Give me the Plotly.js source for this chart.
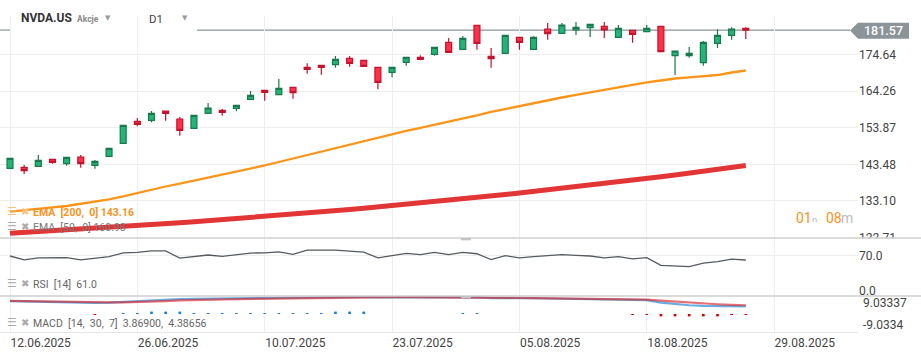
<!DOCTYPE html>
<html><head><meta charset="utf-8">
<script src="https://cdn.plot.ly/plotly-3.0.1.min.js"></script>
<style>html,body{margin:0;padding:0;background:#fff;}#chart{width:921px;height:355px;}</style>
</head><body><div id="chart"></div>
<script>
// ---- data ----
const dates = ['12.06','13.06','16.06','17.06','18.06','20.06','23.06','24.06','25.06','26.06',
 '27.06','30.06','01.07','02.07','03.07','07.07','08.07','09.07','10.07','11.07',
 '14.07','15.07','16.07','17.07','18.07','21.07','22.07','23.07','24.07','25.07',
 '28.07','29.07','30.07','31.07','01.08','04.08','05.08','06.08','07.08','08.08',
 '11.08','12.08','13.08','14.08','15.08','18.08','19.08','20.08','21.08','22.08',
 '25.08','26.08','27.08'];
const open = [142.36,142.64,142.92,144.91,143.66,145.56,143.21,145.76,149.45,155.69,
 155.97,158.61,156.34,153.70,157.96,158.81,159.38,161.93,164.48,163.24,
 165.33,171.01,171.58,171.75,173.56,172.99,171.01,169.59,172.43,173.85,
 174.70,178.10,176.12,182.92,174.13,174.98,179.52,176.12,181.87,180.65,
 181.59,182.24,182.64,179.52,181.51,181.11,182.64,174.30,174.30,172.31,
 177.82,180.09,182.07];
const high = [145.30,143.29,146.13,145.00,145.60,146.13,144.71,148.10,154.60,156.63,
 158.61,158.70,156.91,157.45,160.88,159.18,160.30,164.29,164.60,167.69,
 165.40,172.14,171.65,174.21,174.21,173.05,171.05,171.05,173.90,174.41,
 176.75,179.32,179.89,182.95,176.48,180.15,179.60,179.80,183.58,183.58,
 183.86,183.30,183.86,183.01,181.55,183.01,182.70,175.70,176.77,178.47,
 181.79,182.36,182.36];
const low = [142.30,140.74,142.90,143.66,143.09,142.53,142.24,145.70,149.40,154.27,
 155.41,155.86,151.60,153.65,157.90,157.28,158.53,161.90,161.53,163.20,
 162.10,169.19,168.91,170.90,171.18,171.25,164.77,168.17,171.46,172.99,
 174.30,175.20,176.10,176.00,170.90,174.95,176.00,176.10,178.84,180.46,
 180.17,179.60,179.32,179.50,177.99,181.05,175.40,168.82,173.73,171.46,
 176.48,178.84,179.04];
const close = [145.19,141.68,144.63,144.06,145.48,143.66,144.34,148.03,154.55,154.84,
 157.96,157.96,153.14,157.39,159.46,158.24,160.23,163.06,163.92,165.05,
 163.80,170.44,171.01,173.28,172.14,171.29,166.75,171.01,173.85,173.28,
 176.68,175.26,179.24,177.82,173.45,180.09,178.10,179.52,180.54,183.01,
 182.36,183.21,181.59,182.07,180.37,182.07,175.43,175.63,174.98,178.10,
 180.09,181.87,181.57];
const ema50 = [130.04,130.38,130.81,131.24,131.66,132.23,132.94,133.51,134.36,135.35,
 136.20,137.19,138.04,138.90,139.75,140.60,141.31,142.30,143.15,144.14,
 145.14,146.13,147.12,148.11,149.11,150.10,151.09,152.09,152.94,153.79,
 154.64,155.49,156.48,157.34,158.33,159.18,160.03,160.88,161.73,162.44,
 163.15,163.86,164.57,165.42,166.13,166.70,167.26,167.83,168.12,168.40,
 168.82,169.53,170.10];
const ema200 = [123.92,124.14,124.37,124.60,124.83,125.07,125.31,125.56,125.81,126.07,
 126.33,126.60,126.88,127.16,127.45,127.74,128.04,128.35,128.66,128.98,
 129.30,129.63,129.97,130.31,130.66,131.02,131.38,131.75,132.12,132.50,
 132.89,133.28,133.68,134.09,134.50,134.92,135.34,135.77,136.21,136.65,
 137.10,137.56,138.02,138.49,138.97,139.45,139.94,140.43,140.96,141.50,
 142.05,142.60,143.16];
const rsi = [69.0,61.2,65.1,65.1,65.7,61.2,63.8,67.7,75.4,76.2,
 79.3,79.3,64.6,68.4,71.0,68.4,71.0,74.9,75.4,77.4,
 72.3,80.7,80.7,80.7,78.8,76.8,65.1,70.4,74.3,71.6,
 76.2,71.6,76.2,73.5,61.8,69.6,65.1,67.7,69.6,71.6,
 70.4,69.0,65.1,67.7,63.2,65.7,50.2,49.6,47.6,54.8,
 57.9,62.6,61.0];
const macd = [6.5,6.3,6.1,6.0,5.9,5.8,5.6,5.7,6.1,6.5,
 6.9,7.3,7.5,7.6,7.7,7.75,7.8,7.9,8.0,8.1,
 8.2,8.4,8.5,8.6,8.6,8.6,8.3,8.3,8.4,8.4,
 8.5,8.4,8.6,8.5,8.0,8.1,7.9,7.9,7.8,7.8,
 7.7,7.6,7.4,7.4,7.1,7.0,5.7,5.0,4.4,4.1,
 3.9,3.9,3.869];
const signal = [6.6,6.45,6.3,6.15,6.05,5.95,5.9,5.85,5.8,5.95,
 6.2,6.5,6.8,7.05,7.25,7.4,7.5,7.6,7.7,7.8,
 7.9,8.05,8.2,8.35,8.45,8.5,8.5,8.45,8.45,8.45,
 8.45,8.45,8.45,8.45,8.3,8.2,8.1,8.0,7.9,7.85,
 7.8,7.7,7.6,7.5,7.35,7.2,6.7,6.2,5.7,5.2,
 4.9,4.6,4.387];
const hist = [0,0,0,0,0,0,-0.5,0,0.5,0.5,
 1.2,1.2,1.2,0.5,0.5,0.5,0.5,0.5,0.5,0.5,
 0.5,0.5,0.5,1.2,1.2,1.2,0,0,0,0,
 0,0,0.5,0.5,0,0,0,0,0,0,
 0,0,0,0,-0.5,-0.5,-1.2,-1.2,-1.2,-1.2,
 -1.2,-0.5,-0.5];
const xTickIdx = [0,9,18,27,36,45,54];
const xTickText = ['12.06.2025','26.06.2025','10.07.2025','23.07.2025','05.08.2025','18.08.2025','29.08.2025'];
const priceTicks = [122.71,133.10,143.48,153.87,164.26,174.64];
const rsiTicks = [0,70];
const macdTicks = [9.03337,-9.0334];
const lastPrice = 181.57;
const legendEma200 = 'EMA\u00a0 [200,\u00a0 0] 143.16';
const legendEma50 = 'EMA\u00a0 [50,\u00a0 0] 160.98';
const legendRsi = 'RSI\u00a0 [14]\u00a0 61.0';
const legendMacd = 'MACD\u00a0 [14,\u00a0 30,\u00a0 7]\u00a0 3.86900,\u00a0 4.38656';

// ---- geometry helpers (pixel -> paper) ----
const PW = 858, PB = 332, PH = 316;
const px = v => v / PW;
const py = v => (PB - v) / PH;

const x = dates.map((d, i) => i);
const font = 'Roboto, "Noto Sans", sans-serif';

const traces = [
 {type:'scatter', mode:'lines', x:x, y:ema200, yaxis:'y', xaxis:'x',
  line:{color:'#e23535', width:5}, hoverinfo:'skip'},
 {type:'scatter', mode:'lines', x:x, y:ema50, yaxis:'y', xaxis:'x',
  line:{color:'#fb9419', width:2.3}, hoverinfo:'skip'},
 {type:'candlestick', x:x, open:open, high:high, low:low, close:close, yaxis:'y', xaxis:'x',
  increasing:{line:{color:'#177a4c', width:1.2}, fillcolor:'#25b477'},
  decreasing:{line:{color:'#c3132e', width:1.2}, fillcolor:'#ff3148'},
  whiskerwidth:0, hoverinfo:'skip'},
 {type:'scatter', mode:'lines', x:x, y:rsi, yaxis:'y2', xaxis:'x',
  line:{color:'#555b60', width:1.3}, hoverinfo:'skip'},
 {type:'bar', x:x, y:hist, yaxis:'y3', xaxis:'x', width:0.19,
  marker:{color:hist.map(v => v >= 0 ? '#1a7fd4' : '#d80000'), line:{width:0}}, hoverinfo:'skip'},
 {type:'scatter', mode:'lines', x:x, y:macd, yaxis:'y3', xaxis:'x',
  line:{color:'rgba(40,140,215,0.7)', width:2.2}, hoverinfo:'skip'},
 {type:'scatter', mode:'lines', x:x, y:signal, yaxis:'y3', xaxis:'x',
  line:{color:'rgba(215,35,45,0.65)', width:2.2}, hoverinfo:'skip'}
];

const shapes = [
 {type:'line', xref:'paper', yref:'y', x0:0, x1:px(10), y0:lastPrice, y1:lastPrice, line:{color:'#8c969a', width:1.2}, layer:'below'},
 {type:'line', xref:'paper', yref:'y', x0:px(197), x1:px(850), y0:lastPrice, y1:lastPrice, line:{color:'#8c969a', width:1.2}, layer:'below'},
 {type:'path', xref:'paper', yref:'paper',
  path:`M ${px(850)},${py(30.5)} L ${px(858)},${py(22.7)} L ${px(909)},${py(22.7)} L ${px(909)},${py(38.7)} L ${px(858)},${py(38.7)} Z`,
  fillcolor:'#8a9499', line:{width:0}, layer:'above'},
 {type:'line', xref:'paper', yref:'y2', x0:0, x1:1, y0:70, y1:70, line:{color:'#eeeeee', width:1}, layer:'below'},
 {type:'rect', xref:'paper', yref:'paper', x0:px(858.5), x1:px(921), y0:py(246), y1:py(238.5), fillcolor:'#ffffff', line:{width:0}, layer:'above'},
 {type:'line', xref:'paper', yref:'paper', x0:0, x1:px(921), y0:py(238), y1:py(238), line:{color:'#cfcfcf', width:1.6}, layer:'above'},
 {type:'line', xref:'paper', yref:'paper', x0:0, x1:px(921), y0:py(296), y1:py(296), line:{color:'#cfcfcf', width:1.6}, layer:'above'},
 {type:'rect', xref:'paper', yref:'paper', x0:px(461), x1:px(471), y0:py(240.3), y1:py(238), fillcolor:'#c4c4c4', line:{width:0}, layer:'above'},
 {type:'rect', xref:'paper', yref:'paper', x0:px(461), x1:px(471), y0:py(298.3), y1:py(296), fillcolor:'#c4c4c4', line:{width:0}, layer:'above'}
];

function ann(text, xp, yp, opts) {
 return Object.assign({text:text, xref:'paper', yref:'paper', x:px(xp), y:py(yp),
  xanchor:'left', yanchor:'middle', showarrow:false}, opts || {});
}
const annotations = [
 ann('<b>NVDA.US</b>', 19, 18.3, {font:{family:font, size:12, color:'#333'}}),
 ann('<b>Akcje</b>', 74.5, 18.6, {font:{family:font, size:8.5, color:'#8a8a8a'}}),
 ann('▼', 103, 17.5, {font:{family:'DejaVu Sans', size:7, color:'#9a9a9a'}}),
 ann('D1', 147, 18.5, {font:{family:font, size:11.5, color:'#444'}}),
 ann('▼', 180, 17.5, {font:{family:'DejaVu Sans', size:7, color:'#9a9a9a'}}),
 ann(lastPrice.toFixed(2), 883.5, 30.7, {xanchor:'center', font:{family:font, size:12.5, color:'#ffffff', weight:500}}),
 ann('☰', 4.5, 211, {font:{family:'DejaVu Sans', size:11, color:'#fcc27c'}}),
 ann('✖', 18.5, 211, {font:{family:'DejaVu Sans', size:10, color:'#fcc27c'}}),
 ann('<b>'+legendEma200+'</b>', 30.5, 212.5, {font:{family:font, size:10.5, color:'#f7931e'}}),
 ann('☰', 4.5, 226, {font:{family:'DejaVu Sans', size:11, color:'#aaaaaa'}}),
 ann('✖', 18.5, 226, {font:{family:'DejaVu Sans', size:10, color:'#aaaaaa'}}),
 ann(legendEma50, 30.5, 227.5, {font:{family:font, size:10.5, color:'#777'}}),
 ann('☰', 4.5, 283, {font:{family:'DejaVu Sans', size:11, color:'#aaaaaa'}}),
 ann('✖', 18.5, 283, {font:{family:'DejaVu Sans', size:10, color:'#aaaaaa'}}),
 ann(legendRsi, 30.5, 284.5, {font:{family:font, size:10.5, color:'#666'}}),
 ann('☰', 4.5, 322, {font:{family:'DejaVu Sans', size:11, color:'#aaaaaa'}}),
 ann('✖', 18.5, 322, {font:{family:'DejaVu Sans', size:10, color:'#aaaaaa'}}),
 ann(legendMacd, 30.5, 323.8, {font:{family:font, size:10.5, color:'#666'}}),
 // countdown "01ח08m"
 ann('01', 794, 217.5, {font:{family:font, size:14, color:'#f7931e'}}),
 ann('ח', 810, 219, {font:{family:'DejaVu Sans', size:8, color:'#a8a8a8'}}),
 ann('08', 823.5, 217.5, {font:{family:font, size:14, color:'#f7931e'}}),
 ann('m', 838.5, 217.5, {font:{family:font, size:14, color:'#bdbdbd'}}),
 // MACD scale labels (drawn inside the pane like the reference)
 ann(macdTicks[0].toFixed(5), 861, 303.4, {font:{family:font, size:12, color:'#444'}}),
 ann(macdTicks[1].toFixed(4), 861, 325.2, {font:{family:font, size:12, color:'#444'}})
];

const layout = {
 width:921, height:355,
 margin:{l:0, r:63, t:16, b:23, pad:0},
 paper_bgcolor:'#ffffff', plot_bgcolor:'#ffffff',
 showlegend:false, hovermode:false, dragmode:false,
 font:{family:font, size:12, color:'#444'},
 boxgap:0.4,
 xaxis:{range:[-0.707, 59.93], tickmode:'array', tickvals:xTickIdx, ticktext:xTickText,
  ticklabelposition:'outside right', ticks:'', showgrid:true, gridcolor:'#eeeeee', gridwidth:1,
  zeroline:false, showline:true, linecolor:'#e6e6e6', linewidth:1, anchor:'y3',
  rangeslider:{visible:false}, tickfont:{family:font, size:12, color:'#444'}, fixedrange:true},
 yaxis:{domain:[py(238), 1], range:[122.58, 185.56], side:'right', anchor:'x',
  tickmode:'array', tickvals:priceTicks, tickformat:'.2f', ticks:'',
  showgrid:true, gridcolor:'#eeeeee', zeroline:false, tickfont:{family:font, size:12, color:'#444'}, fixedrange:true},
 yaxis2:{domain:[py(296), py(238)], range:[-11, 105], side:'right', anchor:'x',
  tickmode:'array', tickvals:rsiTicks, tickformat:'.1f', ticks:'',
  showgrid:false, zeroline:false, tickfont:{family:font, size:12, color:'#444'}, fixedrange:true},
 yaxis3:{domain:[0, py(296)], range:[-9.0334, 9.03337], side:'right', anchor:'x',
  showticklabels:false, ticks:'', showgrid:false, zeroline:false, fixedrange:true},
 shapes:shapes, annotations:annotations
};

Plotly.newPlot('chart', traces, layout, {staticPlot:true, displayModeBar:false});
</script></body></html>
